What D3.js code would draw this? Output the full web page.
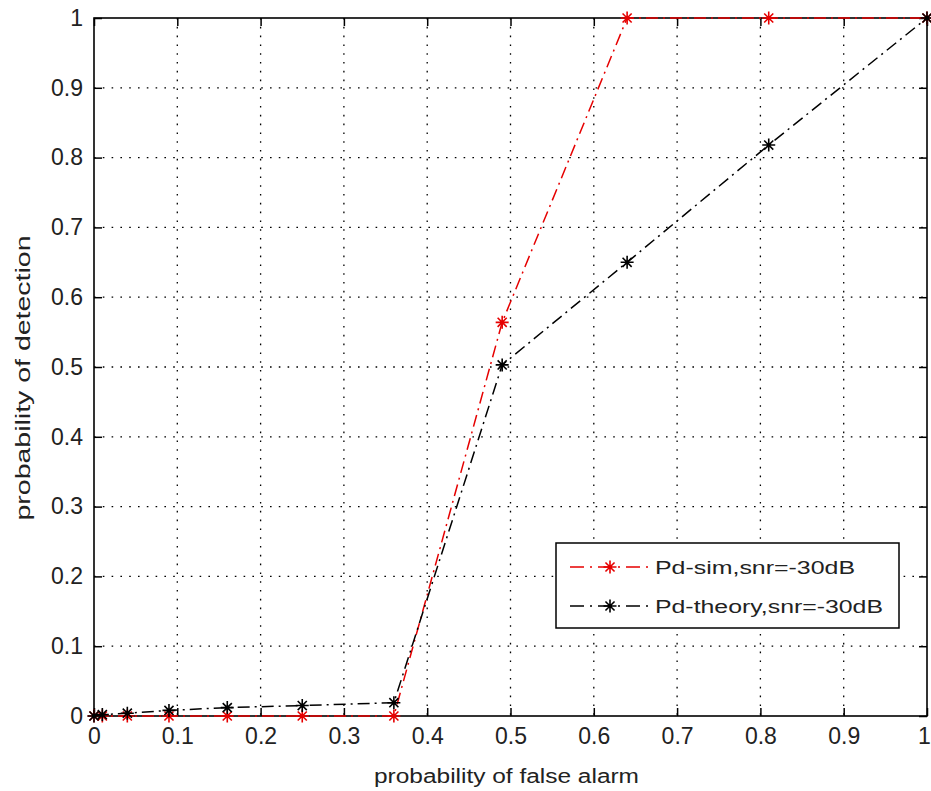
<!DOCTYPE html>
<html>
<head>
<meta charset="utf-8">
<script src="https://cdn.jsdelivr.net/npm/d3@7"></script>
<style>
  body { margin: 0; background: #fff; }
  svg { display: block; font-family: 'Liberation Sans', Arial, sans-serif; }
  .tick text { font-size: 23px; fill: #222; }
  .grid line { stroke: #000; stroke-dasharray: 1.6,7.2; stroke-width: 1.3; }
</style>
</head>
<body>
<svg width="931" height="791"></svg>
<script>
// values
const pfa = [0, 0.01, 0.04, 0.09, 0.16, 0.25, 0.36, 0.49, 0.64, 0.81, 1];
const pdSim = [0, 0, 0, 0, 0, 0, 0, 0.564, 1, 1, 1];
const pdTheory = [0, 0.002, 0.004, 0.008, 0.012, 0.015, 0.019, 0.503, 0.65, 0.818, 1];
const tickValues = [0, 0.1, 0.2, 0.3, 0.4, 0.5, 0.6, 0.7, 0.8, 0.9, 1];
const seriesNames = ['Pd-sim,snr=-30dB', 'Pd-theory,snr=-30dB'];
const seriesColors = ['#e60000', '#000000'];

(function (d3) {
  'use strict';

  const svg = d3.select('svg');
  const width = +svg.attr('width');
  const height = +svg.attr('height');

  const margin = { top: 18, right: 4, bottom: 75, left: 94 };
  const innerWidth = width - margin.left - margin.right;
  const innerHeight = height - margin.top - margin.bottom;

  const xScale = d3.scaleLinear().domain([0, 1]).range([0, innerWidth]);
  const yScale = d3.scaleLinear().domain([0, 1]).range([innerHeight, 0]);

  const g = svg.append('g')
    .attr('transform', `translate(${margin.left},${margin.top})`);

  // dotted grid
  const grid = g.append('g').attr('class', 'grid');
  grid.selectAll('.gx').data(tickValues.slice(1, -1)).enter().append('line')
    .attr('x1', d => xScale(d)).attr('x2', d => xScale(d))
    .attr('y1', 0).attr('y2', innerHeight);
  grid.selectAll('.gy').data(tickValues.slice(1, -1)).enter().append('line')
    .attr('y1', d => yScale(d)).attr('y2', d => yScale(d))
    .attr('x1', 0).attr('x2', innerWidth);

  const fmt = d => d3.format('~g')(d);

  const xAxisG = g.append('g')
    .attr('transform', `translate(0,${innerHeight})`)
    .call(d3.axisBottom(xScale).tickValues(tickValues).tickFormat(fmt)
      .tickSize(-8).tickPadding(12));
  // last label sits at the window edge, nudge it in
  xAxisG.selectAll('.tick text').filter(d => d === 1).attr('dx', -3);

  const yAxisG = g.append('g')
    .call(d3.axisLeft(yScale).tickValues(tickValues).tickFormat(fmt)
      .tickSize(-8).tickPadding(11));
  const topG = g.append('g')
    .call(d3.axisTop(xScale).tickValues(tickValues).tickFormat('').tickSize(-8));
  const rightG = g.append('g')
    .attr('transform', `translate(${innerWidth},0)`)
    .call(d3.axisRight(yScale).tickValues(tickValues).tickFormat('').tickSize(-8));

  [xAxisG, yAxisG, topG, rightG].forEach(a => {
    a.selectAll('.domain').remove();
    a.selectAll('.tick line').attr('stroke', '#000').attr('stroke-width', 1.5);
  });

  g.append('rect')
    .attr('width', innerWidth).attr('height', innerHeight)
    .attr('fill', 'none').attr('stroke', '#000').attr('stroke-width', 1.6);

  // axis labels
  svg.append('text')
    .attr('x', margin.left + innerWidth / 2 - 4)
    .attr('y', 783)
    .attr('text-anchor', 'middle')
    .attr('font-size', 20)
    .attr('fill', '#222')
    .attr('textLength', 265)
    .attr('lengthAdjust', 'spacingAndGlyphs')
    .text('probability of false alarm');

  svg.append('text')
    .attr('transform', `translate(30,${378}) rotate(-90)`)
    .attr('text-anchor', 'middle')
    .attr('font-size', 20)
    .attr('fill', '#222')
    .attr('textLength', 285)
    .attr('lengthAdjust', 'spacingAndGlyphs')
    .text('probability of detection');

  const star = (sel, r) => sel.append('path')
    .attr('d', `M${-r},0H${r}M0,${-r}V${r}M${-r * 0.7},${-r * 0.7}L${r * 0.7},${r * 0.7}M${-r * 0.7},${r * 0.7}L${r * 0.7},${-r * 0.7}`);

  const line = d3.line()
    .x(d => xScale(d[0]))
    .y(d => yScale(d[1]));

  [pdSim, pdTheory].forEach((vals, i) => {
    const pts = pfa.map((x, j) => [x, vals[j]]);
    g.append('path')
      .datum(pts)
      .attr('d', line)
      .attr('fill', 'none')
      .attr('stroke', seriesColors[i])
      .attr('stroke-width', 1.5)
      .attr('stroke-dasharray', '12,5,2,5');
    g.selectAll(null).data(pts).enter().append('g')
      .attr('transform', d => `translate(${xScale(d[0])},${yScale(d[1])})`)
      .call(s => star(s, 6.5))
      .selectAll('path')
      .attr('stroke', seriesColors[i])
      .attr('stroke-width', 1.6)
      .attr('fill', 'none');
  });

  // legend
  const legend = svg.append('g').attr('transform', 'translate(556,543)');
  legend.append('rect')
    .attr('width', 343).attr('height', 85)
    .attr('fill', '#fff').attr('stroke', '#000').attr('stroke-width', 1.5);
  const textLens = [200, 228];
  seriesNames.forEach((name, i) => {
    const row = legend.append('g').attr('transform', `translate(0,${24 + i * 39})`);
    row.append('line')
      .attr('x1', 14).attr('x2', 96)
      .attr('stroke', seriesColors[i]).attr('stroke-width', 1.5)
      .attr('stroke-dasharray', '14,6,2,6');
    row.append('g').attr('transform', 'translate(54,0)')
      .call(s => star(s, 6.5))
      .selectAll('path')
      .attr('stroke', seriesColors[i]).attr('stroke-width', 1.6).attr('fill', 'none');
    row.append('text')
      .attr('x', 99)
      .attr('y', 7)
      .attr('font-size', 18)
      .attr('fill', '#222')
      .attr('textLength', textLens[i])
      .attr('lengthAdjust', 'spacingAndGlyphs')
      .text(name);
  });

}(d3));
</script>
</body>
</html>
